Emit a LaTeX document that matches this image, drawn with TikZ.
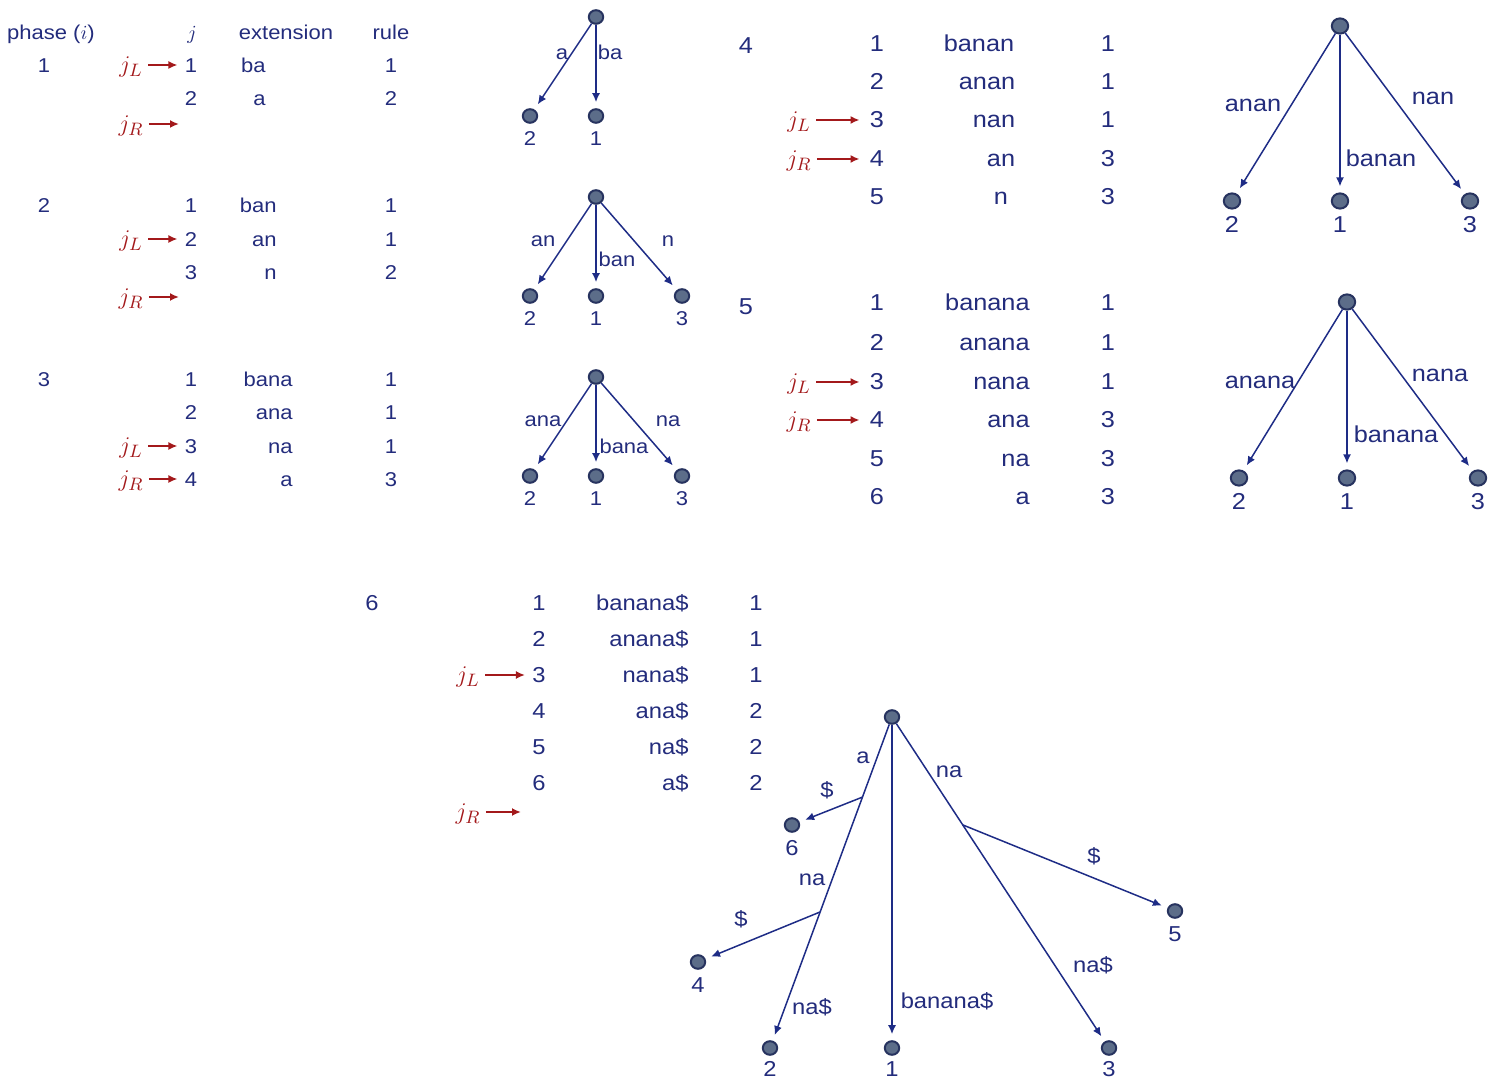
\documentclass[tikz,border=0pt]{standalone}
\usepackage{fontspec}
\setmainfont{Liberation Sans}[FakeStretch=1.1]
\usetikzlibrary{arrows.meta,calc,shapes.geometric}
\definecolor{inkblue}{HTML}{232C7C}
\definecolor{edgeblue}{HTML}{1E2C86}
\definecolor{dotfill}{HTML}{5C6D89}
\definecolor{dotline}{HTML}{27335F}
\definecolor{ptrred}{HTML}{A3191B}

\begin{document}
\begin{tikzpicture}[x=0.5pt, y=-0.5pt,
  every node/.style={text=inkblue, inner sep=0pt, text height=0.72em, text depth=0pt},
  sm/.style={font=\fontsize{10}{12}\selectfont},
  md/.style={font=\fontsize{10.8}{13}\selectfont},
  lg/.style={font=\fontsize{11.5}{14}\selectfont},
  ptrlbl/.style={text=ptrred, font=\fontsize{12.5}{15}\selectfont},
  vtx/.style={ellipse, draw=dotline, fill=dotfill, line width=1pt, minimum width=7.2pt, minimum height=6.8pt, text height=0pt},
  bigvtx/.style={vtx, minimum width=8.2pt, minimum height=7.6pt},
  edge/.style={draw=edgeblue, line width=0.75pt, -{Latex[length=4.5pt,width=4pt]}, shorten >=3pt},
  ptr/.style={draw=ptrred, line width=1pt, -{Latex[length=4.5pt,width=4pt]}, shorten <=2.5pt, shorten >=3.5pt}]
\clip (0,0) rectangle (1495,1079);

% Phases 1-3: table on the left, trees next to it
\begin{scope}[nodes=sm]
\node (hphase) at (51,32) {phase ($i$)};
\node (hj) at (192,32) {$j$};
\node (hext) at (286,32) {extension};
\node (hrule) at (391,32) {rule};

% phase 1
\node (ph1) at (44,65) {1};
\node (p1j1) at (191,65) {1};
\node (p1j2) at (191,98) {2};
\node[anchor=east] (p1e1) at (266,65) {ba};
\node[anchor=east] (p1e2) at (266,98) {a};
\node (p1r1) at (391,65) {1};
\node (p1r2) at (391,98) {2};
\node[ptrlbl] (p1jl) at (131,65) {$j_L$};
\node[ptrlbl] (p1jr) at (131,124) {$j_R$};
\coordinate (p1end) at (186,124);
\draw[ptr] (p1jl) -- (p1j1);
\draw[ptr] (p1jr) -- (p1end);

% phase 2
\node (ph2) at (44,205) {2};
\node (p2j1) at (191,205) {1};
\node (p2j2) at (191,239) {2};
\node (p2j3) at (191,272) {3};
\node[anchor=east] (p2e1) at (277,205) {ban};
\node[anchor=east] (p2e2) at (277,239) {an};
\node[anchor=east] (p2e3) at (277,272) {n};
\node (p2r1) at (391,205) {1};
\node (p2r2) at (391,239) {1};
\node (p2r3) at (391,272) {2};
\node[ptrlbl] (p2jl) at (131,239) {$j_L$};
\node[ptrlbl] (p2jr) at (131,297) {$j_R$};
\coordinate (p2end) at (186,297);
\draw[ptr] (p2jl) -- (p2j2);
\draw[ptr] (p2jr) -- (p2end);

% phase 3
\node (ph3) at (44,379) {3};
\node (p3j1) at (191,379) {1};
\node (p3j2) at (191,412) {2};
\node (p3j3) at (191,446) {3};
\node (p3j4) at (191,479) {4};
\node[anchor=east] (p3e1) at (293,379) {bana};
\node[anchor=east] (p3e2) at (293,412) {ana};
\node[anchor=east] (p3e3) at (293,446) {na};
\node[anchor=east] (p3e4) at (293,479) {a};
\node (p3r1) at (391,379) {1};
\node (p3r2) at (391,412) {1};
\node (p3r3) at (391,446) {1};
\node (p3r4) at (391,479) {3};
\node[ptrlbl] (p3jl) at (131,446) {$j_L$};
\node[ptrlbl] (p3jr) at (131,479) {$j_R$};
\draw[ptr] (p3jl) -- (p3j3);
\draw[ptr] (p3jr) -- (p3j4);

% tree after phase 1
\node[vtx] (t1r) at (596,17) {};
\node[vtx] (t1l2) at (530,116) {};
\node[vtx] (t1l1) at (596,116) {};
\node (t1n2) at (530,138) {2};
\node (t1n1) at (596,138) {1};
\draw[edge] (t1r) -- (t1l2);
\draw[edge] (t1r) -- (t1l1);
\node (t1a) at (562,52) {a};
\node (t1b) at (610,52) {ba};

% tree after phase 2
\node[vtx] (t2r) at (596,197) {};
\node[vtx] (t2l2) at (530,296) {};
\node[vtx] (t2l1) at (596,296) {};
\node[vtx] (t2l3) at (682,296) {};
\node (t2n2) at (530,318) {2};
\node (t2n1) at (596,318) {1};
\node (t2n3) at (682,318) {3};
\draw[edge] (t2r) -- (t2l2);
\draw[edge] (t2r) -- (t2l1);
\draw[edge] (t2r) -- (t2l3);
\node (t2a) at (543,239) {an};
\node (t2b) at (617,259) {ban};
\node (t2c) at (668,239) {n};

% tree after phase 3
\node[vtx] (t3r) at (596,377) {};
\node[vtx] (t3l2) at (530,476) {};
\node[vtx] (t3l1) at (596,476) {};
\node[vtx] (t3l3) at (682,476) {};
\node (t3n2) at (530,498) {2};
\node (t3n1) at (596,498) {1};
\node (t3n3) at (682,498) {3};
\draw[edge] (t3r) -- (t3l2);
\draw[edge] (t3r) -- (t3l1);
\draw[edge] (t3r) -- (t3l3);
\node (t3a) at (543,419) {ana};
\node (t3b) at (624,446) {bana};
\node (t3c) at (668,419) {na};
\end{scope}

% Phases 4 and 5
\begin{scope}[nodes=lg, ptr/.append style={shorten >=5pt}]
% phase 4
\node (ph4) at (746,46) {4};
\node (p4j1) at (877,44) {1};
\node (p4j2) at (877,82) {2};
\node (p4j3) at (877,120) {3};
\node (p4j4) at (877,159) {4};
\node (p4j5) at (877,197) {5};
\node (p4e1) at (979,44) {banan};
\node (p4e2) at (987,82) {anan};
\node (p4e3) at (994,120) {nan};
\node (p4e4) at (1001,159) {an};
\node (p4e5) at (1001,197) {n};
\node (p4r1) at (1108,44) {1};
\node (p4r2) at (1108,82) {1};
\node (p4r3) at (1108,120) {1};
\node (p4r4) at (1108,159) {3};
\node (p4r5) at (1108,197) {3};
\node[ptrlbl] (p4jl) at (799,120) {$j_L$};
\node[ptrlbl] (p4jr) at (799,159) {$j_R$};
\draw[ptr] (p4jl) -- (p4j3);
\draw[ptr] (p4jr) -- (p4j4);

% phase 5
\node (ph5) at (746,307) {5};
\node (p5j1) at (877,303) {1};
\node (p5j2) at (877,343) {2};
\node (p5j3) at (877,382) {3};
\node (p5j4) at (877,420) {4};
\node (p5j5) at (877,459) {5};
\node (p5j6) at (877,497) {6};
\node[anchor=east] (p5e1) at (1030,303) {banana};
\node[anchor=east] (p5e2) at (1030,343) {anana};
\node[anchor=east] (p5e3) at (1030,382) {nana};
\node[anchor=east] (p5e4) at (1030,420) {ana};
\node[anchor=east] (p5e5) at (1030,459) {na};
\node[anchor=east] (p5e6) at (1030,497) {a};
\node (p5r1) at (1108,303) {1};
\node (p5r2) at (1108,343) {1};
\node (p5r3) at (1108,382) {1};
\node (p5r4) at (1108,420) {3};
\node (p5r5) at (1108,459) {3};
\node (p5r6) at (1108,497) {3};
\node[ptrlbl] (p5jl) at (799,382) {$j_L$};
\node[ptrlbl] (p5jr) at (799,420) {$j_R$};
\draw[ptr] (p5jl) -- (p5j3);
\draw[ptr] (p5jr) -- (p5j4);

% tree after phase 4
\node[bigvtx] (t4r) at (1340,26) {};
\node[bigvtx] (t4l2) at (1232,201) {};
\node[bigvtx] (t4l1) at (1340,201) {};
\node[bigvtx] (t4l3) at (1470,201) {};
\node (t4n2) at (1232,225) {2};
\node (t4n1) at (1340,225) {1};
\node (t4n3) at (1470,225) {3};
\draw[edge] (t4r) -- (t4l2);
\draw[edge] (t4r) -- (t4l1);
\draw[edge] (t4r) -- (t4l3);
\node (t4a) at (1253,104) {anan};
\node (t4b) at (1381,159) {banan};
\node (t4c) at (1433,97) {nan};

% tree after phase 5
\node[bigvtx] (t5r) at (1347,302) {};
\node[bigvtx] (t5l2) at (1239,478) {};
\node[bigvtx] (t5l1) at (1347,478) {};
\node[bigvtx] (t5l3) at (1478,478) {};
\node (t5n2) at (1239,502) {2};
\node (t5n1) at (1347,502) {1};
\node (t5n3) at (1478,502) {3};
\draw[edge] (t5r) -- (t5l2);
\draw[edge] (t5r) -- (t5l1);
\draw[edge] (t5r) -- (t5l3);
\node (t5a) at (1260,381) {anana};
\node (t5b) at (1396,435) {banana};
\node (t5c) at (1440,374) {nana};
\end{scope}

% Phase 6 and the final tree
\begin{scope}[nodes=md]
\node (ph6) at (372,603) {6};
\node (p6j1) at (539,603) {1};
\node (p6j2) at (539,639) {2};
\node (p6j3) at (539,675) {3};
\node (p6j4) at (539,711) {4};
\node (p6j5) at (539,747) {5};
\node (p6j6) at (539,783) {6};
\node[anchor=east] (p6e1) at (689,603) {banana\$};
\node[anchor=east] (p6e2) at (689,639) {anana\$};
\node[anchor=east] (p6e3) at (689,675) {nana\$};
\node[anchor=east] (p6e4) at (689,711) {ana\$};
\node[anchor=east] (p6e5) at (689,747) {na\$};
\node[anchor=east] (p6e6) at (689,783) {a\$};
\node (p6r1) at (756,603) {1};
\node (p6r2) at (756,639) {1};
\node (p6r3) at (756,675) {1};
\node (p6r4) at (756,711) {2};
\node (p6r5) at (756,747) {2};
\node (p6r6) at (756,783) {2};
\node[ptrlbl] (p6jl) at (468,675) {$j_L$};
\node[ptrlbl] (p6jr) at (468,812) {$j_R$};
\coordinate (p6end) at (528,812);
\draw[ptr] (p6jl) -- (p6j3);
\draw[ptr] (p6jr) -- (p6end);

\node[vtx] (t6r) at (892,717) {};
\node[vtx] (t6l6) at (792,825) {};
\node[vtx] (t6l4) at (698,962) {};
\node[vtx] (t6l2) at (770,1048) {};
\node[vtx] (t6l1) at (892,1048) {};
\node[vtx] (t6l3) at (1109,1048) {};
\node[vtx] (t6l5) at (1175,911) {};
\node (t6n6) at (792,848) {6};
\node (t6n4) at (698,985) {4};
\node (t6n2) at (770,1069) {2};
\node (t6n1) at (892,1069) {1};
\node (t6n3) at (1109,1069) {3};
\node (t6n5) at (1175,934) {5};
\coordinate (t6a) at ($(t6r)!0.242!(t6l2)$);
\coordinate (t6n) at ($(t6r)!0.589!(t6l2)$);
\coordinate (t6m) at ($(t6r)!0.326!(t6l3)$);
\draw[edge] (t6r) -- (t6l2);
\draw[edge] (t6a) -- (t6l6);
\draw[edge] (t6n) -- (t6l4);
\draw[edge] (t6r) -- (t6l1);
\draw[edge] (t6r) -- (t6l3);
\draw[edge] (t6m) -- (t6l5);
\node (t6la) at (863,756) {a};
\node (t6ld1) at (827,790) {\$};
\node (t6lna) at (812,878) {na};
\node (t6ld2) at (741,919) {\$};
\node (t6lna2) at (812,1007) {na\$};
\node (t6lb) at (947,1001) {banana\$};
\node (t6lr) at (949,770) {na};
\node (t6ld3) at (1094,856) {\$};
\node (t6lna3) at (1093,965) {na\$};
\end{scope}
\end{tikzpicture}
\end{document}
